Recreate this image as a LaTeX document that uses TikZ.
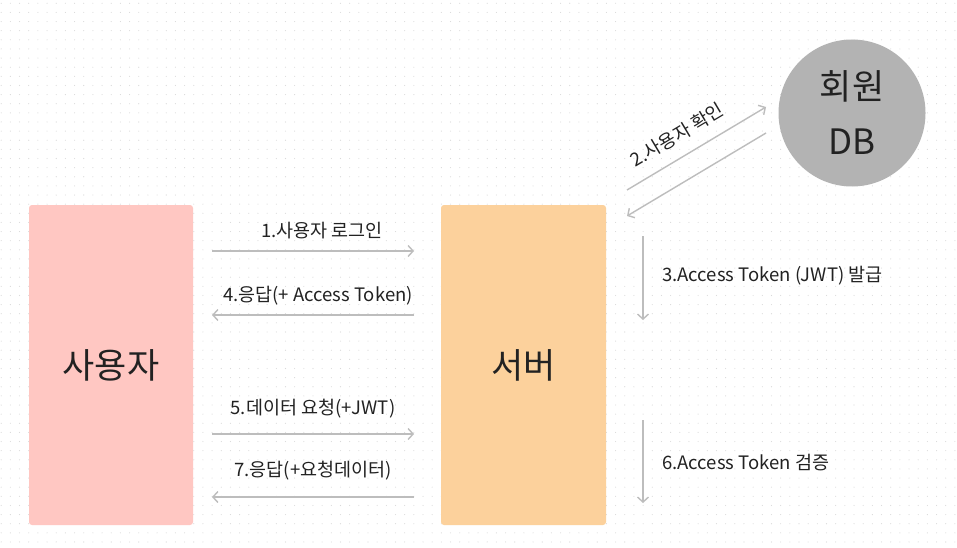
\documentclass[tikz,border=0pt]{standalone}
\usepackage{fontspec}
\setmainfont{Noto Sans CJK KR}
\usetikzlibrary{arrows.meta}
\definecolor{userfill}{HTML}{FFC7C2}
\definecolor{serverfill}{HTML}{FCD19C}
\definecolor{dbfill}{HTML}{B3B3B3}
\definecolor{arrowgray}{HTML}{BDBDBD}
\definecolor{dotgray}{HTML}{D9D9D9}
\definecolor{txt}{HTML}{222222}
\tikzset{
  actor/.style={rounded corners=3pt, inner sep=0pt, text=txt, font=\fontsize{35}{40}\selectfont},
  lbl/.style={text=txt, inner sep=0pt, font=\fontsize{18.5}{22}\selectfont},
  flow/.style={draw=arrowgray, line width=1.4pt, -{Straight Barb[length=5pt,width=11pt,line width=1.4pt]}},
}
\begin{document}
\begin{tikzpicture}[x=1pt,y=-1pt]
\useasboundingbox (0,0) rectangle (957,548);
\fill[white] (0,0) rectangle (957,548);
\foreach \i in {0,...,104}{
  \foreach \j in {0,...,59}{
    \fill[dotgray] ({1.2+\i*9.17},{3.3+\j*9.13}) circle (0.55pt);
  }
}
\node[actor, fill=userfill, minimum width=164pt, minimum height=320pt] (user) at (111,365) {사용자};
\node[actor, fill=serverfill, minimum width=165pt, minimum height=320pt] (server) at (523.5,365) {서버};
\node[circle, fill=dbfill, minimum size=147pt, inner sep=0pt, text=txt, align=center,
      font=\fontsize{35}{55}\selectfont] (db) at (852,113) {회원\\DB};

\coordinate (a1s) at (212,251); \coordinate (a1e) at (414,251);
\coordinate (a4s) at (414,315); \coordinate (a4e) at (212,315);
\coordinate (a5s) at (212,434); \coordinate (a5e) at (414,434);
\coordinate (a7s) at (414,497); \coordinate (a7e) at (212,497);
\coordinate (d1s) at (627,190); \coordinate (d1e) at (766,107);
\coordinate (d2s) at (766,133); \coordinate (d2e) at (627,216);
\coordinate (v3s) at (643,236); \coordinate (v3e) at (643,320);
\coordinate (v6s) at (643,420); \coordinate (v6e) at (643,503);

\draw[flow] (a1s) -- (a1e);
\draw[flow] (a4s) -- (a4e);
\draw[flow] (a5s) -- (a5e);
\draw[flow] (a7s) -- (a7e);
\draw[flow] (d1s) -- (d1e);
\draw[flow] (d2s) -- (d2e);
\draw[flow] (v3s) -- (v3e);
\draw[flow] (v6s) -- (v6e);

\node[lbl] (l1) at (322,231) {1.사용자 로그인};
\node[lbl] (l4) at (318,296) {4.응답(+ Access Token)};
\node[lbl] (l5) at (313,409) {5.데이터 요청(+JWT)};
\node[lbl] (l7) at (313,471) {7.응답(+요청데이터)};
\node[lbl, rotate=30.8] (l2) at (677,135) {2.사용자 확인};
\node[lbl, anchor=west] (l3) at (662,276) {3.Access Token (JWT) 발급};
\node[lbl, anchor=west] (l6) at (662,463) {6.Access Token 검증};
\end{tikzpicture}
\end{document}
